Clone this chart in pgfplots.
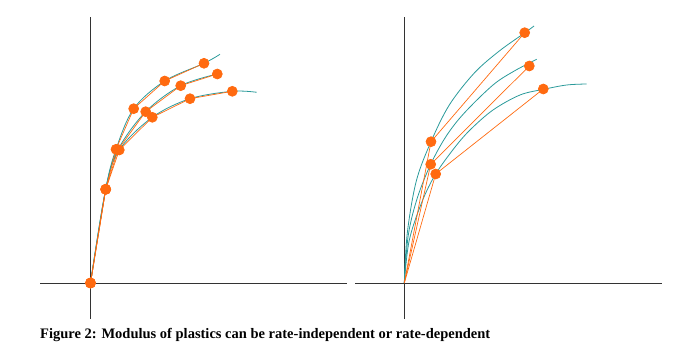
\documentclass[border=0pt]{standalone}
\usepackage{pgfplots}
\pgfplotsset{compat=1.18}
\usepackage{fontspec}
\setmainfont{Liberation Serif}
\definecolor{tealc}{HTML}{2A9A9A}
\definecolor{orangec}{HTML}{FF6A10}
\pgfplotsset{
  panel/.style={
    scale only axis, width=306.7bp, height=301.5bp,
    ymin=-36, ymax=265.5,
    axis lines=middle, axis line style={-, draw=black!80, line width=0.8pt},
    xtick=\empty, ytick=\empty, clip=false,
  },
  tealline/.style={color=tealc, line width=0.8pt, smooth, tension=0.55, no markers},
  orline/.style={color=orangec, line width=0.7pt, mark=*, mark size=5pt, mark options={fill=orangec, draw=orangec}},
}
\begin{document}
\begin{tikzpicture}
\path[use as bounding box] (0,0) rectangle (700bp,356bp);
% left panel
\begin{axis}[panel, xmin=-50.5, xmax=256.2, at={(40bp,37bp)}, anchor=south west]
\addplot[tealline] coordinates {(0,0) (15.2,93.7) (25.5,133.7) (43.2,174.3) (74.2,202) (113.5,219.7) (129.5,228.7)};
\addplot[tealline] coordinates {(0,0) (15.2,93.7) (27.5,133.3) (55.2,171.3) (90.2,197.3) (126.8,209)};
\addplot[tealline] coordinates {(0,0) (15.2,93.7) (28.8,133) (61.8,165.7) (99.5,184.3) (141.8,191.7) (166.2,190.7)};
\addplot[orline] coordinates {(0,0) (15.2,93.7) (25.5,133.7) (43.2,174.3) (74.2,202) (113.5,219.7)};
\addplot[orline] coordinates {(0,0) (15.2,93.7) (27.5,133.3) (55.2,171.3) (90.2,197.3) (126.8,209)};
\addplot[orline] coordinates {(0,0) (15.2,93.7) (28.8,133) (61.8,165.7) (99.5,184.3) (141.8,191.7)};
\end{axis}
% right panel
\begin{axis}[panel, xmin=-49.3, xmax=257.4, at={(355bp,37bp)}, anchor=south west]
\addplot[tealline] coordinates {(0,0) (3,50) (12,102) (26.7,141.3) (45,178) (70,210) (95,232) (120.7,250.3) (129.7,257)};
\addplot[tealline] coordinates {(0,0) (4,48) (13,85) (26.4,118.7) (42,147) (60,170) (88.7,198) (110,212) (132.4,223.7)};
\addplot[tealline] coordinates {(0,0) (5,43) (18,82) (31.4,109) (50,135) (65.7,153) (88.7,173) (115.7,188) (139.4,193.7) (162.4,198) (182.4,199)};
\addplot[orline, mark indices={2,3}] coordinates {(0,0) (26.7,141.3) (120.4,250.3)};
\addplot[orline, mark indices={2,3}] coordinates {(0,0) (26.4,118.7) (125,217)};
\addplot[orline, mark indices={2,3}] coordinates {(0,0) (31.4,109) (139,194)};
\end{axis}
\node[anchor=base west, inner sep=0pt, font=\fontsize{14.5bp}{16bp}\selectfont\bfseries] at (40bp,18bp)
  {Figure 2: Modulus of plastics can be rate-independent or rate-dependent};
\end{tikzpicture}
\end{document}
